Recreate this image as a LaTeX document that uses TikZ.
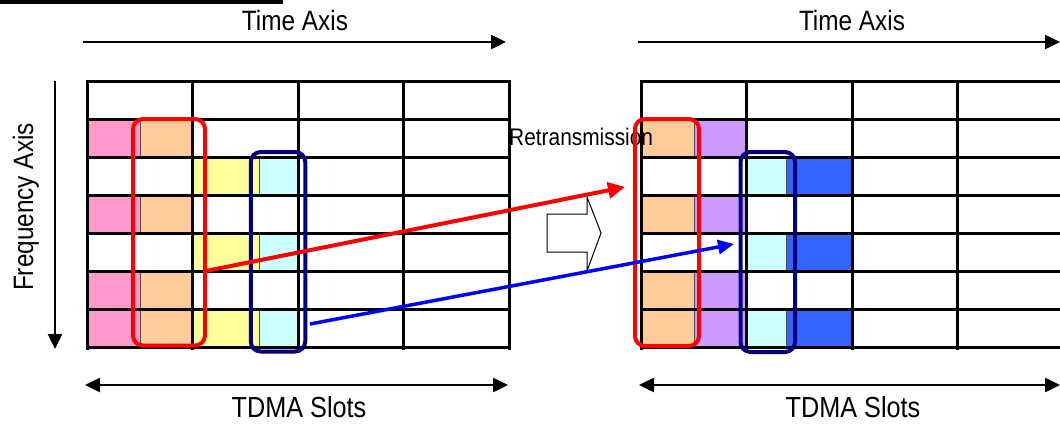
\documentclass[tikz,border=0pt]{standalone}
\usepackage{fontspec}
\setmainfont{Liberation Sans}[FakeStretch=0.87]
\usetikzlibrary{arrows.meta}
\definecolor{pinkc}{HTML}{FF99CC}
\definecolor{orangec}{HTML}{FFCC99}
\definecolor{yellowc}{HTML}{FFFF99}
\definecolor{cyanc}{HTML}{CCFFFF}
\definecolor{purplec}{HTML}{CC99FF}
\definecolor{bluec}{HTML}{3366FF}
\definecolor{navyc}{HTML}{000080}
\definecolor{arrowblue}{HTML}{0000FF}
\begin{document}
\begin{tikzpicture}[x=1pt,y=-1pt,
  gridline/.style={line width=3pt,black,line cap=rect},
  cell/.style={draw=black!70,line width=0.8pt},
  redbox/.style={draw=red,line width=4pt,rounded corners=10pt,inner sep=0pt},
  bluebox/.style={draw=navyc,line width=4pt,rounded corners=10pt,inner sep=0pt},
  axis/.style={line width=2.5pt,-{Triangle[length=15pt,width=14pt]}},
  twoway/.style={line width=2.5pt,{Triangle[length=15pt,width=14pt]}-{Triangle[length=15pt,width=14pt]}},
  axlabel/.style={font=\fontsize{28}{30}\selectfont,inner sep=0pt},
  redarrow/.style={draw=red,line width=4pt,-{Triangle[length=17pt,width=16pt]}},
  bluearrow/.style={draw=arrowblue,line width=3.5pt,-{Triangle[length=16pt,width=14pt]}},
]
\useasboundingbox (0,0) rectangle (1060,423);
\def\rh{38.14}
% top-left remnant bar
\fill[black] (0,0) rectangle (283,3.5);

% ---------- left grid fills ----------
\foreach \r in {1,3,5,6} {
  \draw[cell,fill=pinkc]   (87,{81+\r*\rh})  rectangle (140,{81+(\r+1)*\rh});
  \draw[cell,fill=orangec] (140,{81+\r*\rh}) rectangle (193,{81+(\r+1)*\rh});
}
\foreach \r in {2,4,6} {
  \draw[cell,fill=yellowc] (193,{81+\r*\rh}) rectangle (259,{81+(\r+1)*\rh});
  \draw[cell,fill=cyanc]   (259,{81+\r*\rh}) rectangle (298,{81+(\r+1)*\rh});
}
% ---------- right grid fills ----------
\foreach \r in {1,3,5,6} {
  \draw[cell,fill=orangec] (641,{81+\r*\rh}) rectangle (694,{81+(\r+1)*\rh});
  \draw[cell,fill=purplec] (694,{81+\r*\rh}) rectangle (746,{81+(\r+1)*\rh});
}
\foreach \r in {2,4,6} {
  \draw[cell,fill=cyanc] (746,{81+\r*\rh}) rectangle (786,{81+(\r+1)*\rh});
  \draw[cell,fill=bluec] (786,{81+\r*\rh}) rectangle (852,{81+(\r+1)*\rh});
}
% ---------- grid lines ----------
\foreach \xo in {87,641} {
  \foreach \k in {0,...,7}
    \draw[gridline] (\xo,{81+\k*\rh}) -- ({\xo+422},{81+\k*\rh});
  \foreach \j in {0,...,4}
    \draw[gridline] ({\xo+\j*105.5},81) -- ({\xo+\j*105.5},348);
}

% ---------- texts ----------
\node[axlabel,anchor=base] (tL) at (295,30) {Time Axis};
\node[axlabel,anchor=base] (tR) at (852,30) {Time Axis};
\node[axlabel,anchor=base,font=\fontsize{29}{31}\selectfont] (sL) at (299,417) {TDMA Slots};
\node[axlabel,anchor=base,font=\fontsize{29}{31}\selectfont] (sR) at (853,417) {TDMA Slots};
\node[axlabel,anchor=base,rotate=90] (fA) at (33,207) {Frequency Axis};
\node[inner sep=0pt,anchor=base west,font=\fontsize{24}{26}\selectfont] (rt) at (509,145.5) {Retransmission};

% ---------- axis arrows ----------
\coordinate (taL1) at (83,42);  \coordinate (taL2) at (506,42);
\coordinate (taR1) at (638,42); \coordinate (taR2) at (1060,42);
\draw[axis] (taL1) -- (taL2);
\draw[axis] (taR1) -- (taR2);
\coordinate (faT) at (55,81); \coordinate (faB) at (55,349);
\draw[axis] (faT) -- (faB);
\coordinate (tsL1) at (85,385);  \coordinate (tsL2) at (508,385);
\coordinate (tsR1) at (639,385); \coordinate (tsR2) at (1060,385);
\draw[twoway] (tsL1) -- (tsL2);
\draw[twoway] (tsR1) -- (tsR2);

% ---------- hollow arrow ----------
\draw[line width=1pt,fill=white,line join=miter] (547,214) -- (587,214) -- (587,197) -- (601,233) -- (587,271) -- (587,252) -- (547,252) -- cycle;

% ---------- selection boxes ----------
\node[redbox,minimum width=72pt,minimum height=226.5pt] (rL) at (169,232.25) {};
\node[bluebox,minimum width=54.5pt,minimum height=199.5pt] (bL) at (278,251.75) {};
\node[redbox,minimum width=64pt,minimum height=227pt] (rR) at (667,232.5) {};
\node[bluebox,minimum width=54.5pt,minimum height=200pt] (bR) at (767.75,252) {};

% ---------- retransmission arrows ----------
\coordinate (redS) at (206,271);
\coordinate (redE) at (625,187);
\coordinate (blueS) at (310,324);
\coordinate (blueE) at (734,244);
\draw[redarrow] (redS) -- (redE);
\draw[bluearrow] (blueS) -- (blueE);
\end{tikzpicture}
\end{document}
